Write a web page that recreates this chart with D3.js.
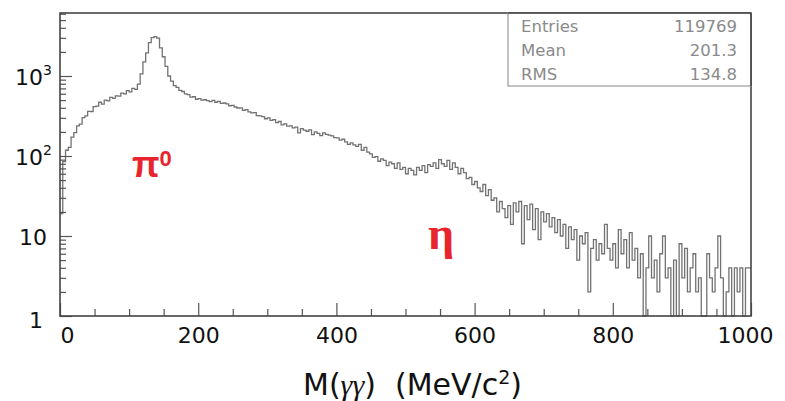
<!DOCTYPE html>
<html>
<head>
<meta charset="utf-8">
<script src="https://cdn.jsdelivr.net/npm/d3@7"></script>
<style>
  body { margin: 0; background: #fff; }
  svg { display: block; }
</style>
</head>
<body>
<div class="chart"></div>
<script>
// Histogram contents, 4 MeV bins from 0 to 1000 MeV
var binWidth = 4;
var counts = [
  19, 85, 118, 128, 172, 196, 238, 250, 302, 318,
  362, 360, 415, 420, 470, 445, 498, 490, 540, 525,
  565, 560, 610, 598, 655, 635, 700, 680, 790, 1060,
  1500, 1950, 2620, 3020, 3100, 2980, 2250, 1740, 1320, 1000,
  865, 760, 720, 660, 640, 598, 585, 545, 550, 512,
  522, 498, 505, 492, 478, 495, 470, 482, 455, 460,
  448, 425, 430, 410, 398, 400, 372, 380, 356, 345,
  348, 320, 318, 310, 292, 300, 278, 285, 262, 270,
  245, 252, 236, 238, 225, 230, 195, 220, 210, 204,
  212, 185, 200, 192, 180, 194, 186, 182, 178, 170,
  168, 158, 162, 150, 140, 146, 138, 132, 140, 118,
  128, 112, 106, 96, 98, 86, 92, 88, 76, 84,
  80, 70, 82, 68, 72, 60, 70, 66, 58, 72,
  66, 76, 62, 78, 74, 82, 70, 90, 80, 74,
  88, 68, 82, 72, 60, 70, 62, 52, 54, 44,
  48, 40, 36, 44, 32, 38, 28, 30, 20, 27,
  22, 17, 24, 14, 26, 20, 27, 8, 24, 16,
  25, 12, 22, 9, 20, 15, 19, 13, 17, 11,
  16, 10, 14, 7, 13, 9, 12, 5, 10, 8,
  11, 2, 7, 9, 5, 8, 6, 14, 7, 5,
  8, 4, 12, 6, 9, 4, 11, 5, 7, 3,
  6, 0, 4, 10, 3, 5, 2, 6, 10, 3,
  4, 1, 5, 0, 8, 3, 7, 2, 4, 6,
  2, 3, 0, 0, 6, 3, 2, 4, 10, 3,
  0, 2, 4, 0, 4, 2, 4, 1, 4, 4
];

// axis ticks and labels
var xMajorTicks = [0, 200, 400, 600, 800, 1000];
var xMinorTicks = [50, 100, 150, 250, 300, 350, 450, 500, 550, 650, 700, 750, 850, 900, 950];
var yMajorTicks = [1, 10, 100, 1000];
var yLabelBase = ["1", "10", "10", "10"];
var yLabelExp = ["", "", "2", "3"];

// stats box
var statNames = ["Entries", "Mean", "RMS"];
var statValues = ["119769", "201.3", "134.8"];

var svgWidth = 785;
var svgHeight = 401;

var frame = { left: 60, right: 751, top: 13, bottom: 316 };

var svg = d3.select(".chart")
  .append("svg")
  .attr("width", svgWidth)
  .attr("height", svgHeight);

// scales
var xScale = d3.scaleLinear()
  .domain([0, 1000])
  .range([frame.left, frame.right]);

var yScale = d3.scaleLog()
  .domain([1, 6130])
  .range([frame.bottom, frame.top]);

// minor y ticks: 2..9 in each decade
var yMinorTicks = [];
yMajorTicks.forEach(function(d) {
  for (var k = 2; k <= 9; k++) {
    if (d * k < 6130) yMinorTicks.push(d * k);
  }
});

// histogram outline
var points = counts.map(function(c, i) { return [i * binWidth, c]; });
points.push([1000, counts[counts.length - 1]]);

var histLine = d3.line()
  .x(d => xScale(d[0]))
  .y(d => yScale(Math.max(d[1], 1)))
  .curve(d3.curveStepAfter);

svg.append("path")
  .datum(points)
  .attr("d", histLine)
  .attr("fill", "none")
  .attr("stroke", "#727272")
  .attr("stroke-width", 1.3);

// ticks (pointing into the frame)
var tickColor = "#555";

var xMinorAxis = svg.append("g")
  .attr("transform", `translate(0, ${frame.bottom})`)
  .call(d3.axisBottom(xScale).tickValues(xMinorTicks).tickSize(-7).tickFormat(""));

var xMajorAxis = svg.append("g")
  .attr("transform", `translate(0, ${frame.bottom})`)
  .call(d3.axisBottom(xScale).tickValues(xMajorTicks).tickSize(-13).tickPadding(0).tickFormat(d3.format("d")));

var yMinorAxis = svg.append("g")
  .attr("transform", `translate(${frame.left}, 0)`)
  .call(d3.axisLeft(yScale).tickValues(yMinorTicks).tickSize(-6).tickFormat(""));

var yMajorAxis = svg.append("g")
  .attr("transform", `translate(${frame.left}, 0)`)
  .call(d3.axisLeft(yScale).tickValues(yMajorTicks).tickSize(-12).tickFormat(""));

svg.selectAll(".domain").remove();
svg.selectAll(".tick line")
  .attr("stroke", tickColor)
  .attr("stroke-width", 1.2);

// x tick labels
xMajorAxis.selectAll(".tick text")
  .attr("y", 27)
  .attr("dy", 0)
  .attr("fill", "#111")
  .style("font-family", "DejaVu Sans, sans-serif")
  .style("font-size", "22px")
  .attr("dx", d => d === 0 ? 7 : (d === 1000 ? -6 : 0));

// y tick labels with exponents
var yLabels = svg.append("g");
yMajorTicks.forEach(function(d, i) {
  var hasExp = yLabelExp[i] !== "";
  yLabels.append("text")
    .attr("x", hasExp ? 43 : (d === 1 ? 43 : 47))
    .attr("y", yScale(d) + (d === 1 ? 12 : 9))
    .attr("text-anchor", "end")
    .attr("fill", "#111")
    .style("font-family", "DejaVu Sans, sans-serif")
    .style("font-size", "22px")
    .text(yLabelBase[i]);
  if (hasExp) {
    yLabels.append("text")
      .attr("x", 43)
      .attr("y", yScale(d) - 1)
      .attr("fill", "#111")
      .style("font-family", "DejaVu Sans, sans-serif")
      .style("font-size", "14px")
      .text(yLabelExp[i]);
  }
});

// frame
svg.append("rect")
  .attr("x", frame.left)
  .attr("y", frame.top)
  .attr("width", frame.right - frame.left)
  .attr("height", frame.bottom - frame.top)
  .attr("fill", "none")
  .attr("stroke", "#444")
  .attr("stroke-width", 1.6);

// stats box
var statBox = { left: 508, bottom: 86 };
svg.append("rect")
  .attr("x", statBox.left)
  .attr("y", frame.top)
  .attr("width", frame.right - statBox.left)
  .attr("height", statBox.bottom - frame.top)
  .attr("fill", "#fff")
  .attr("stroke", "#9a9a9a")
  .attr("stroke-width", 1.2);

svg.append("line")
  .attr("x1", frame.right).attr("x2", frame.right)
  .attr("y1", frame.top).attr("y2", statBox.bottom)
  .attr("stroke", "#444").attr("stroke-width", 1.6);
svg.append("line")
  .attr("x1", statBox.left).attr("x2", frame.right)
  .attr("y1", frame.top).attr("y2", frame.top)
  .attr("stroke", "#444").attr("stroke-width", 1.6);

statNames.forEach(function(name, i) {
  var yy = 32 + i * 24;
  svg.append("text")
    .attr("x", 521)
    .attr("y", yy)
    .attr("fill", "#8a8a8a")
    .style("font-family", "DejaVu Sans, sans-serif")
    .style("font-size", "16.5px")
    .text(name);
  svg.append("text")
    .attr("x", 737)
    .attr("y", yy)
    .attr("text-anchor", "end")
    .attr("fill", "#8a8a8a")
    .style("font-family", "DejaVu Sans, sans-serif")
    .style("font-size", "16.5px")
    .text(statValues[i]);
});

// peak labels
var peakColor = "#e8252f";
var pi0 = svg.append("text")
  .attr("x", 132)
  .attr("y", 177)
  .attr("fill", peakColor)
  .style("font-family", "Liberation Sans, Arial, sans-serif")
  .style("font-weight", "bold")
  .style("font-size", "36px");
pi0.append("tspan").text("π");
pi0.append("tspan")
  .attr("dy", -11)
  .style("font-size", "22px")
  .text("0");

svg.append("text")
  .attr("x", 428)
  .attr("y", 249)
  .attr("fill", peakColor)
  .style("font-family", "Liberation Serif, serif")
  .style("font-weight", "bold")
  .style("font-size", "46px")
  .text("η");

// x axis title
var title = svg.append("text")
  .attr("x", 303)
  .attr("y", 395)
  .attr("fill", "#111")
  .style("font-family", "DejaVu Sans, sans-serif")
  .style("font-size", "30px");
title.append("tspan").text("M(");
title.append("tspan")
  .style("font-family", "Liberation Serif, serif")
  .style("font-style", "italic")
  .text("γγ");
title.append("tspan").text(")\u00a0\u00a0(MeV/c");
title.append("tspan")
  .attr("dy", -11)
  .style("font-size", "19px")
  .text("2");
title.append("tspan")
  .attr("dy", 11)
  .text(")");
</script>
</body>
</html>
